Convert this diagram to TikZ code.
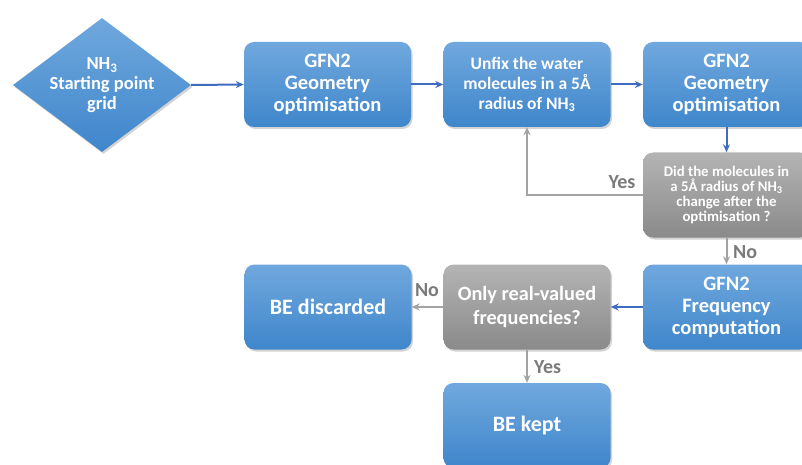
\documentclass[tikz,border=0pt]{standalone}
\usepackage{fontspec}
\setmainfont{Carlito}
\usetikzlibrary{shapes.geometric,shadows,arrows.meta}
\definecolor{bluetop}{HTML}{70A8DE}
\definecolor{bluebot}{HTML}{3F86CB}
\definecolor{graytop}{HTML}{B4B4B4}
\definecolor{graybot}{HTML}{8A8A8A}
\definecolor{bluearrow}{HTML}{3D6CC0}
\definecolor{grayarrow}{HTML}{A3A3A3}
\definecolor{labelgray}{HTML}{7A7A7A}
\tikzset{
  shad/.style={drop shadow={opacity=0.35,shadow xshift=1.5pt,shadow yshift=-2pt}},
  bluebox/.style={rectangle, rounded corners=10pt, minimum width=167pt, minimum height=85pt,
     inner sep=0pt, top color=bluetop, bottom color=bluebot, draw=none, shad,
     text=white, font=\bfseries, align=center},
  graybox/.style={bluebox, top color=graytop, bottom color=graybot},
  bluearr/.style={draw=bluearrow, line width=2pt, -{Stealth[length=8pt,width=7pt]}},
  grayarr/.style={draw=grayarrow, line width=2pt, -{Stealth[length=8pt,width=7pt]}},
  lbl/.style={text=labelgray, font=\bfseries\fontsize{20}{22}\selectfont, inner sep=1pt}
}
\begin{document}
\begin{tikzpicture}[x=1pt,y=-1pt]
\useasboundingbox (0,0) rectangle (802,465);
\clip (0,0) rectangle (802,465);
\node[diamond, minimum width=178pt, minimum height=134pt, inner sep=0pt,
      top color=bluetop, bottom color=bluebot, draw=none, shad]
      (start) at (102,85) {};
\node[text=white, font=\bfseries\fontsize{18.5}{20}\selectfont, align=center, inner sep=0pt]
      (starttext) at (start.center) {NH\textsubscript{3}\\Starting point\\grid};
\node[bluebox, font=\bfseries\fontsize{20.5}{22}\selectfont] (geo1) at (327.5,84.5) {GFN2\\Geometry\\optimisation};
\node[bluebox, font=\bfseries\fontsize{17.5}{20}\selectfont] (unfix) at (527,84.5) {Unfix the water\\molecules in a 5Å\\radius of NH\textsubscript{3}};
\node[bluebox, font=\bfseries\fontsize{20.5}{22}\selectfont] (geo2) at (726.5,84.5) {GFN2\\Geometry\\optimisation};
\node[graybox, font=\bfseries\fontsize{14.8}{15}\selectfont] (dec1) at (726.5,195) {Did the molecules in\\a 5Å radius of NH\textsubscript{3}\\change after the\\optimisation ?};
\node[bluebox, font=\bfseries\fontsize{20.5}{22}\selectfont] (freq) at (726.5,307) {GFN2\\Frequency\\computation};
\node[graybox, font=\bfseries\fontsize{20.3}{24}\selectfont] (dec2) at (527,307) {Only real-valued\\frequencies?};
\node[bluebox, font=\bfseries\fontsize{22}{24}\selectfont] (disc) at (328,307) {BE discarded};
\node[bluebox, font=\bfseries\fontsize{22}{24}\selectfont] (kept) at (527,425.5) {BE kept};

\draw[bluearr] (start.east) -- (geo1.west);
\draw[bluearr] (geo1.east) -- (unfix.west);
\draw[bluearr] (unfix.east) -- (geo2.west);
\draw[bluearr] (geo2.south) -- (dec1.north);
\coordinate (corner) at (unfix.south |- dec1.west);
\draw[grayarr] (dec1.west) -- (corner) -- (unfix.south);
\node[lbl] (yes1) at (622,182) {Yes};
\draw[grayarr] (dec1.south) -- (freq.north);
\node[lbl, anchor=west] (no1) at (732,252) {No};
\draw[bluearr] (freq.west) -- (dec2.east);
\draw[grayarr] (dec2.west) -- (disc.east);
\node[lbl] (no2) at (427,290) {No};
\draw[grayarr] (dec2.south) -- (kept.north);
\node[lbl, anchor=west] (yes2) at (533,367) {Yes};
\end{tikzpicture}
\end{document}
